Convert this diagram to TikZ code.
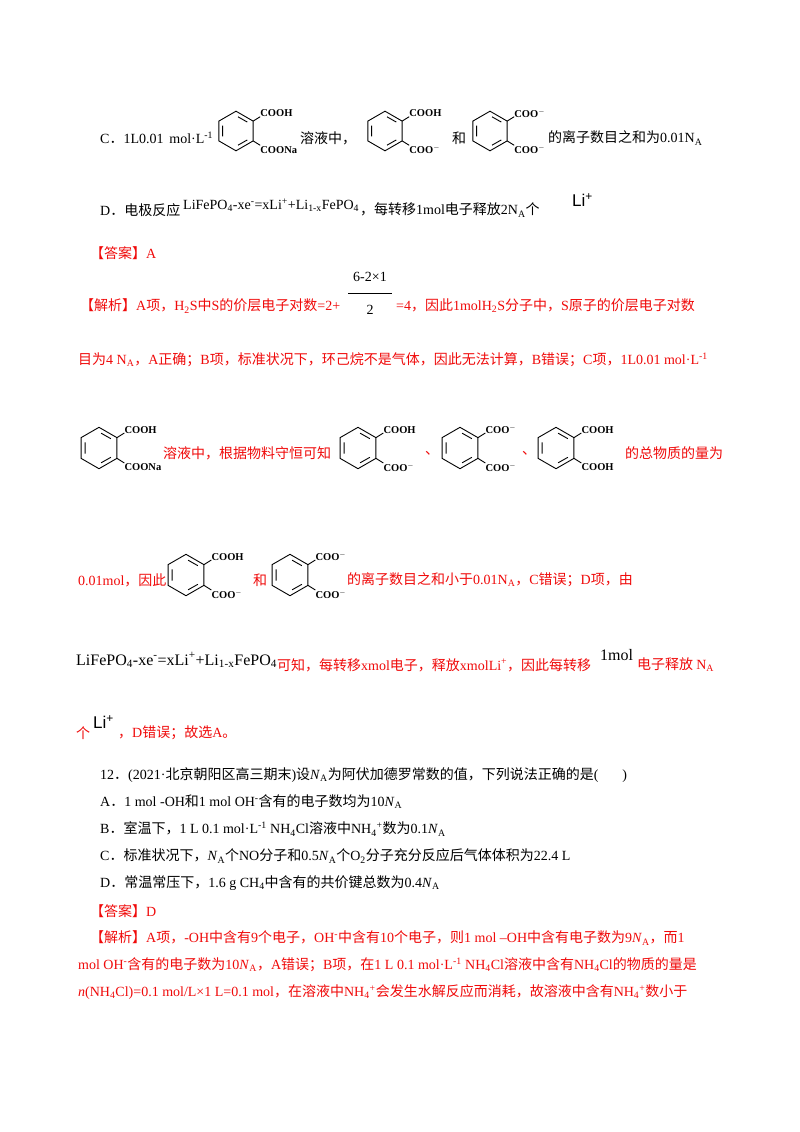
\documentclass[tikz,border=0pt]{standalone}
\usepackage{fontspec}
\setmainfont{Liberation Serif}
\setsansfont{Liberation Sans}
\newfontfamily\cjk{Noto Sans CJK SC}
\newfontfamily\latinf{Liberation Serif}
\XeTeXinterchartokenstate=1
\newXeTeXintercharclass\CJKcls
\count255="4E00 \loop \XeTeXcharclass\count255=\CJKcls \ifnum\count255<"9FFF \advance\count255 by 1 \repeat
\count255="3000 \loop \XeTeXcharclass\count255=\CJKcls \ifnum\count255<"303F \advance\count255 by 1 \repeat
\count255="FF00 \loop \XeTeXcharclass\count255=\CJKcls \ifnum\count255<"FF60 \advance\count255 by 1 \repeat
\XeTeXinterchartoks 0 \CJKcls = {\cjk}
\XeTeXinterchartoks 4095 \CJKcls = {\cjk}
\XeTeXinterchartoks \CJKcls 0 = {\latinf}
\XeTeXinterchartoks 4095 0 = {\latinf}
\newcommand\nochk{\XeTeXinterchartokenstate=0\relax}
\definecolor{ans}{RGB}{240,10,10}
\tikzset{txt/.style={anchor=west,inner sep=0pt,font=\fontsize{14}{17}\selectfont},
  rtxt/.style={txt,text=ans},
  litxt/.style={txt,font=\fontsize{17}{18}\selectfont\nochk\sffamily},
  bond/.style={line width=0.9pt},
  lab/.style={anchor=west,inner sep=0pt,font=\fontsize{10.5}{10.5}\selectfont\bfseries}}
\newcommand\bz[5]{%
\begin{scope}[shift={(#1,#2)},yscale=-1,scale=#5]
\draw[bond] (90:18)--(30:18)--(-30:18)--(-90:18)--(-150:18)--(150:18)--cycle;
\draw[bond] (-12.1,4.9)--(-12.1,-4.9) (1.8,12.9)--(10.3,8.1) (10.3,-8.1)--(1.8,-12.9);
\draw[bond] (30:18)--(22,13) (-30:18)--(22,-13);
\node[lab] at (22,16) {#3};
\node[lab] at (22,-17) {#4};
\end{scope}}
\newcommand\cm{COO$^{-}$}
\begin{document}
\begin{tikzpicture}[x=1pt,y=-1pt]
\useasboundingbox[fill=white] (0,0) rectangle (800,1132);
% C line
\node[txt] (c1) at (100,138) {C．1L0.01\, mol·L\textsuperscript{-1}};
\bz{236}{131}{COOH}{COONa}{1.1}
\node[txt] (c2) at (300,138) {溶液中，};
\bz{385}{131}{COOH}{\cm}{1.1}
\node[txt] (c3) at (452,138) {和};
\bz{490}{131}{\cm}{\cm}{1.1}
\node[txt] (c4) at (548,138) {的离子数目之和为0.01N\textsubscript{A}};
% D line
\node[txt] (d1) at (100,210) {D．电极反应};
\node[txt,font=\fontsize{14}{16}\selectfont] (d2) at (183,205) {LiFePO\textsubscript{4}-xe\textsuperscript{-}=xLi\textsuperscript{+}+Li\textsubscript{1-x}FePO\textsubscript{4}};
\node[txt] (d3) at (360,210) {，每转移1mol电子释放2N\textsubscript{A}个};
\node[litxt] (d4) at (572,200) {Li\textsuperscript{+}};
\node[rtxt] (a1) at (90,253) {【答案】A};
% analysis
\node[rtxt] (j1) at (80,306) {【解析】A项，H\textsubscript{2}S中S的价层电子对数=2+};
\node[txt,anchor=center] (fn) at (370,277) {6-2×1};
\draw[line width=0.6pt] (348,293)--(392,293);
\node[txt,anchor=center] (fd) at (370,310) {2};
\node[rtxt] (j2) at (396,306) {=4，因此1molH\textsubscript{2}S分子中，S原子的价层电子对数};
\node[rtxt] (j3) at (78,360) {目为4 N\textsubscript{A}，A正确；B项，标准状况下，环己烷不是气体，因此无法计算，B错误；C项，1L0.01 mol·L\textsuperscript{-1}};
\bz{99}{448}{COOH}{COONa}{1.15}
\node[rtxt] (j4) at (163,453) {溶液中，根据物料守恒可知};
\bz{358}{448}{COOH}{\cm}{1.15}
\node[rtxt] (j5) at (425,453) {、};
\bz{460}{448}{\cm}{\cm}{1.15}
\node[rtxt] (j6) at (522,453) {、};
\bz{556}{448}{COOH}{COOH}{1.15}
\node[rtxt] (j7) at (625,453) {的总物质的量为};
\node[rtxt] (j8) at (78,580) {0.01mol，因此};
\bz{186}{575}{COOH}{\cm}{1.15}
\node[rtxt] (j9) at (253,580) {和};
\bz{290}{575}{\cm}{\cm}{1.15}
\node[rtxt] (j10) at (347,580) {的离子数目之和小于0.01N\textsubscript{A}，C错误；D项，由};
\node[txt,font=\fontsize{16}{18}\selectfont] (j11) at (76,660) {LiFePO\textsubscript{4}-xe\textsuperscript{-}=xLi\textsuperscript{+}+Li\textsubscript{1-x}FePO\textsubscript{4}};
\node[rtxt] (j12) at (277,665) {可知，每转移xmol电子，释放xmolLi\textsuperscript{+}，因此每转移};
\node[txt,font=\fontsize{16}{18}\selectfont] (j13) at (600,655) {1mol};
\node[rtxt] (j14) at (637,665) {电子释放 N\textsubscript{A}};
\node[rtxt] (j15) at (76,733) {个};
\node[litxt] (j16) at (93,722) {Li\textsuperscript{+}};
\node[rtxt] (j17) at (118,733) {，D错误；故选A。};
% Q12
\node[txt] (q0) at (100,775) {12．(2021·北京朝阳区高三期末)设\textit{N}\textsubscript{A}为阿伏加德罗常数的值，下列说法正确的是(\hspace{24pt})};
\node[txt] (q1) at (100,802) {A．1 mol -OH和1 mol OH\textsuperscript{-}含有的电子数均为10\textit{N}\textsubscript{A}};
\node[txt] (q2) at (100,829) {B．室温下，1 L 0.1 mol·L\textsuperscript{-1} NH\textsubscript{4}Cl溶液中NH\textsubscript{4}\textsuperscript{+}数为0.1\textit{N}\textsubscript{A}};
\node[txt] (q3) at (100,856) {C．标准状况下，\textit{N}\textsubscript{A}个NO分子和0.5\textit{N}\textsubscript{A}个O\textsubscript{2}分子充分反应后气体体积为22.4 L};
\node[txt] (q4) at (100,883) {D．常温常压下，1.6 g CH\textsubscript{4}中含有的共价键总数为0.4\textit{N}\textsubscript{A}};
\node[rtxt] (q5) at (90,911) {【答案】D};
\node[rtxt] (q6) at (90,938) {【解析】A项，-OH中含有9个电子，OH\textsuperscript{-}中含有10个电子，则1 mol –OH中含有电子数为9\textit{N}\textsubscript{A}，而1};
\node[rtxt] (q7) at (78,965) {mol OH\textsuperscript{-}含有的电子数为10\textit{N}\textsubscript{A}，A错误；B项，在1 L 0.1 mol·L\textsuperscript{-1} NH\textsubscript{4}Cl溶液中含有NH\textsubscript{4}Cl的物质的量是};
\node[rtxt] (q8) at (78,992) {\textit{n}(NH\textsubscript{4}Cl)=0.1 mol/L×1 L=0.1 mol，在溶液中NH\textsubscript{4}\textsuperscript{+}会发生水解反应而消耗，故溶液中含有NH\textsubscript{4}\textsuperscript{+}数小于};
\end{tikzpicture}
\end{document}
